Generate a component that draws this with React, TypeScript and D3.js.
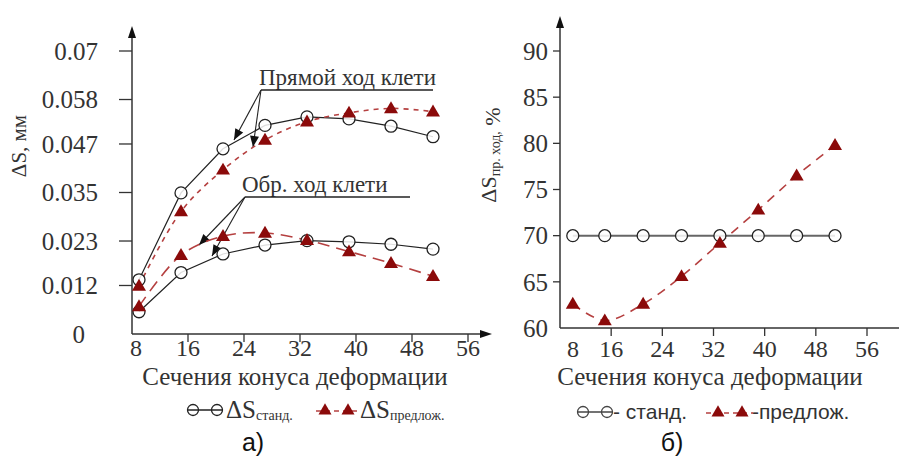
import React from "react";
import * as d3 from "d3";

const xTicks = [8, 16, 24, 32, 40, 48, 56];
const leftYTicks = [0, 0.012, 0.023, 0.035, 0.047, 0.058, 0.07];
const leftYTickLabels = ["0", "0.012", "0.023", "0.035", "0.047", "0.058", "0.07"];
const rightYTicks = [60, 65, 70, 75, 80, 85, 90];

const leftX = [9, 15, 21, 27, 33, 39, 45, 51];
const stdUpper = [0.0134, 0.0349, 0.0458, 0.0516, 0.0537, 0.0532, 0.0514, 0.0488];
const propUpper = [0.0119, 0.0303, 0.0406, 0.048, 0.0525, 0.0547, 0.0558, 0.055];
const stdLower = [0.0055, 0.0152, 0.0198, 0.022, 0.0231, 0.0228, 0.0222, 0.021];
const propLower = [0.0068, 0.0195, 0.0242, 0.025, 0.0232, 0.0204, 0.0175, 0.0143];

const rightX = [10, 15, 21, 27, 33, 39, 45, 51];
const stdRight = [70, 70, 70, 70, 70, 70, 70, 70];
const propRight = [62.6, 60.8, 62.6, 65.6, 69.2, 72.8, 76.5, 79.8];

const RED = "#8b0a0a";
const RED_LINE = "#b54040";
const TXT = "#333";
const SERIF = "'Liberation Serif', 'Times New Roman', 'DejaVu Serif', serif";
const SANS = "'Liberation Sans', Arial, sans-serif";

type Pt = [number, number];

function Triangle({ x, y, s = 7 }: { x: number; y: number; s?: number }) {
  const h = s * 1.7;
  return (
    <path
      d={`M${x},${y - h * 0.6} L${x + s},${y + h * 0.4} L${x - s},${y + h * 0.4} Z`}
      fill={RED}
    />
  );
}

function Circle({ x, y, r = 6 }: { x: number; y: number; r?: number }) {
  return <circle cx={x} cy={y} r={r} fill="#fff" fillOpacity={0.85} stroke="#222" strokeWidth={1.3} />;
}

export default function App() {
  const xL = d3.scaleLinear().domain([8, 56]).range([132, 468]);
  const yL = d3.scaleLinear().domain([0, 0.07]).range([334, 51]);
  const xR = d3.scaleLinear().domain([8, 56]).range([560, 867]);
  const yR = d3.scaleLinear().domain([60, 90]).range([328, 51]);

  const line = d3.line<Pt>().x((d) => d[0]).y((d) => d[1]);
  const curve = d3.line<Pt>().x((d) => d[0]).y((d) => d[1]).curve(d3.curveCatmullRom.alpha(0.5));

  const pts = (xs: number[], ys: number[], sx: any, sy: any): Pt[] =>
    xs.map((x, i) => [sx(x), sy(ys[i])]);

  const pSU = pts(leftX, stdUpper, xL, yL);
  const pPU = pts(leftX, propUpper, xL, yL);
  const pSL = pts(leftX, stdLower, xL, yL);
  const pPL = pts(leftX, propLower, xL, yL);
  const pSR = pts(rightX, stdRight, xR, yR);
  const pPR = pts(rightX, propRight, xR, yR);

  const arrowHead = (x1: number, y1: number, x2: number, y2: number) => {
    const a = Math.atan2(y2 - y1, x2 - x1);
    const L = 11, W = 4.5;
    const bx = x2 - L * Math.cos(a), by = y2 - L * Math.sin(a);
    return `M${x2},${y2} L${bx + W * Math.sin(a)},${by - W * Math.cos(a)} L${bx - W * Math.sin(a)},${by + W * Math.cos(a)} Z`;
  };

  const annot = (x0: number, y0: number, x1: number, targets: Pt[], label: string, tx: number, ty: number) => (
    <g>
      <text x={tx} y={ty} fontFamily={SERIF} fontSize={23} fill={TXT}>{label}</text>
      <line x1={x0} y1={y0} x2={x1} y2={y0} stroke="#222" strokeWidth={1.3} />
      {targets.map((t, i) => (
        <g key={i}>
          <line x1={x0} y1={y0} x2={t[0]} y2={t[1]} stroke="#222" strokeWidth={1.1} />
          <path d={arrowHead(x0, y0, t[0], t[1])} fill="#111" />
        </g>
      ))}
    </g>
  );

  return (
    <svg width={899} height={459} style={{ position: "absolute", left: 0, top: 0, background: "#fff" }}>
      <rect width={899} height={459} fill="#fff" />
      {/* LEFT CHART */}
      <g>
        <line x1={132} y1={334} x2={132} y2={34} stroke="#333" strokeWidth={1.5} />
        <path d="M132,26 L128,38 L136,38 Z" fill="#111" />
        <line x1={132} y1={334} x2={482} y2={334} stroke="#333" strokeWidth={1.5} />
        <path d="M492,334 L480,330 L480,338 Z" fill="#111" />
        {leftYTicks.map((t, i) => (
          <g key={i}>
            {i > 0 && <line x1={119} x2={132} y1={yL(t)} y2={yL(t)} stroke="#333" strokeWidth={1.3} />}
            <text x={i === 0 ? 85 : 98} y={yL(t)} dy="0.35em" textAnchor="end" fontFamily={SERIF} fontSize={25} fill={TXT}>
              {leftYTickLabels[i]}
            </text>
          </g>
        ))}
        {xTicks.map((t, i) => (
          <g key={i}>
            {i > 0 && <line x1={xL(t)} x2={xL(t)} y1={334} y2={342} stroke="#333" strokeWidth={1.3} />}
            <text x={i === 0 ? xL(t) + 4 : xL(t)} y={356} textAnchor="middle" fontFamily={SERIF} fontSize={24} fill={TXT}>
              {t}
            </text>
          </g>
        ))}
        <text transform="translate(26,146) rotate(-90)" textAnchor="middle" fontFamily={SERIF} fontSize={21} fill={TXT}>
          ΔS, мм
        </text>
        <text x={295} y={385} textAnchor="middle" fontFamily={SERIF} fontSize={25} fill={TXT}>
          Сечения конуса деформации
        </text>

        {annot(261, 90, 433, [[234, 140], [253, 147]], "Прямой ход клети", 259, 85)}
        {annot(245, 197, 410, [[199, 245], [212, 256]], "Обр. ход клети", 242, 192)}

        <path d={line(pSU)!} fill="none" stroke="#222" strokeWidth={1.2} />
        <path d={line(pSL)!} fill="none" stroke="#222" strokeWidth={1.2} />
        <path d={curve(pPU)!} fill="none" stroke={RED_LINE} strokeWidth={1.6} strokeDasharray="5,5" />
        <path d={curve(pPL)!} fill="none" stroke={RED_LINE} strokeWidth={1.6} strokeDasharray="12,7" />
        {pSU.map((p, i) => <Circle key={"su" + i} x={p[0]} y={p[1]} />)}
        {pSL.map((p, i) => <Circle key={"sl" + i} x={p[0]} y={p[1]} />)}
        {pPU.map((p, i) => <Triangle key={"pu" + i} x={p[0]} y={p[1]} />)}
        {pPL.map((p, i) => <Triangle key={"pl" + i} x={p[0]} y={p[1]} />)}

        <line x1={187} x2={223} y1={410} y2={410} stroke="#222" strokeWidth={1.3} />
        <circle cx={193} cy={410} r={5.5} fill="none" stroke="#222" strokeWidth={1.3} />
        <circle cx={217} cy={410} r={5.5} fill="none" stroke="#222" strokeWidth={1.3} />
        <text x={226} y={418} fontFamily={SERIF} fontSize={25} fill={TXT}>
          ΔS<tspan fontSize={14} dy={2}>станд.</tspan>
        </text>
        <line x1={316} x2={358} y1={411} y2={411} stroke={RED_LINE} strokeWidth={1.6} strokeDasharray="5,4" />
        <Triangle x={325} y={410} s={6.5} />
        <Triangle x={348} y={410} s={6.5} />
        <text x={360} y={418} fontFamily={SERIF} fontSize={25} fill={TXT}>
          ΔS<tspan fontSize={14} dy={2}>предлож.</tspan>
        </text>
        <text x={253} y={451} textAnchor="middle" fontFamily={SANS} fontSize={25} fill="#111">а)</text>
      </g>

      {/* RIGHT CHART */}
      <g>
        <line x1={560} y1={328} x2={560} y2={26} stroke="#333" strokeWidth={1.5} />
        <path d="M560,16 L556,28 L564,28 Z" fill="#111" />
        <line x1={560} y1={328} x2={899} y2={328} stroke="#333" strokeWidth={1.5} />
        {rightYTicks.map((t, i) => (
          <g key={i}>
            {i > 0 && <line x1={553} x2={560} y1={yR(t)} y2={yR(t)} stroke="#333" strokeWidth={1.3} />}
            <text x={548} y={yR(t)} dy="0.35em" textAnchor="end" fontFamily={SERIF} fontSize={25} fill={TXT}>
              {t}
            </text>
          </g>
        ))}
        {xTicks.map((t, i) => (
          <g key={i}>
            {i > 0 && <line x1={xR(t)} x2={xR(t)} y1={328} y2={336} stroke="#333" strokeWidth={1.3} />}
            <text x={i === 0 ? xR(t) + 13 : xR(t)} y={357} textAnchor="middle" fontFamily={SERIF} fontSize={24} fill={TXT}>
              {t}
            </text>
          </g>
        ))}
        <text transform="translate(496,155) rotate(-90)" textAnchor="middle" fontFamily={SERIF} fontSize={22} fill={TXT}>
          ΔS<tspan fontSize={14} dy={4}>пр. ход,</tspan><tspan dy={0}> %</tspan>
        </text>
        <text x={710} y={385} textAnchor="middle" fontFamily={SERIF} fontSize={25} fill={TXT}>
          Сечения конуса деформации
        </text>

        <path d={line(pSR)!} fill="none" stroke="#666" strokeWidth={2} />
        <path d={curve(pPR)!} fill="none" stroke={RED_LINE} strokeWidth={1.6} strokeDasharray="9,7" />
        {pSR.map((p, i) => <Circle key={"sr" + i} x={p[0]} y={p[1]} />)}
        {pPR.map((p, i) => <Triangle key={"pr" + i} x={p[0]} y={p[1]} />)}

        <line x1={577} x2={613} y1={412} y2={412} stroke="#444" strokeWidth={1.5} />
        <circle cx={583} cy={412} r={5.5} fill="none" stroke="#444" strokeWidth={1.3} />
        <circle cx={607} cy={412} r={5.5} fill="none" stroke="#444" strokeWidth={1.3} />
        <text x={613} y={419} fontFamily={SANS} fontSize={21} fill={TXT}>- станд.</text>
        <line x1={706} x2={753} y1={413} y2={413} stroke={RED_LINE} strokeWidth={1.6} strokeDasharray="5,4" />
        <Triangle x={718} y={412} s={6.5} />
        <Triangle x={742} y={412} s={6.5} />
        <text x={752} y={419} fontFamily={SANS} fontSize={21} fill={TXT}>-предлож.</text>
        <text x={672} y={451} textAnchor="middle" fontFamily={SANS} fontSize={25} fill="#111">б)</text>
      </g>
    </svg>
  );
}
